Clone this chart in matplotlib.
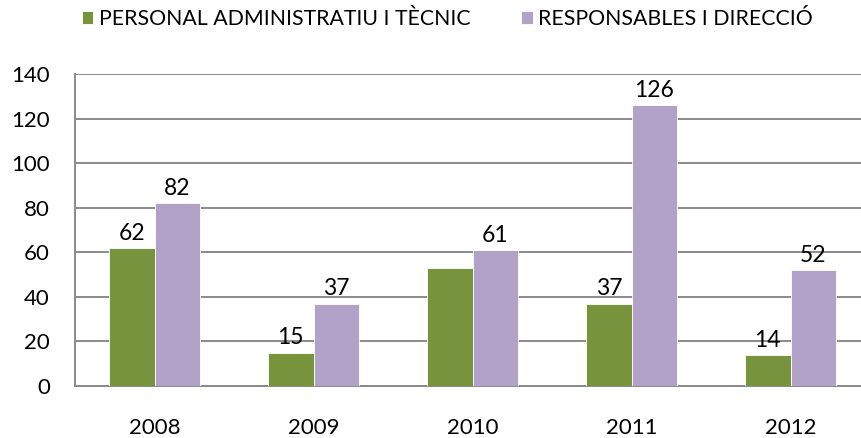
import matplotlib
matplotlib.use("Agg")
import matplotlib.pyplot as plt
import numpy as np

# data
years = ["2008", "2009", "2010", "2011", "2012"]
personal = [62, 15, 53, 37, 14]
responsables = [82, 37, 61, 126, 52]
# the 2010 green bar carries no value label in the source chart
personal_labels = ["62", "15", "", "37", "14"]
responsables_labels = ["82", "37", "61", "126", "52"]
series_names = ["PERSONAL ADMINISTRATIU I TÈCNIC", "RESPONSABLES I DIRECCIÓ"]
yticks = [0, 20, 40, 60, 80, 100, 120, 140]

GREEN = "#77933C"
PURPLE = "#B3A2C7"
GRID = "#8A8A8A"

plt.rcParams["font.family"] = ["Lato", "DejaVu Sans"]

fig = plt.figure(figsize=(8.62, 4.38), dpi=100)
ax = fig.add_axes([75 / 862, 52 / 438, 795 / 862, 312 / 438])

x = np.arange(len(years))
w = 0.285
b1 = ax.bar(x - w / 2, personal, w, color=GREEN, edgecolor="white", linewidth=0.6,
            label=series_names[0], zorder=3)
b2 = ax.bar(x + w / 2, responsables, w, color=PURPLE, edgecolor="white", linewidth=0.6,
            label=series_names[1], zorder=3)
ax.bar_label(b1, labels=personal_labels, padding=3, fontsize=16.5)
ax.bar_label(b2, labels=responsables_labels, padding=3, fontsize=16.5)

ax.set_xlim(-0.5, len(years) - 0.5)
ax.set_ylim(0, 140)
ax.set_yticks(yticks)
ax.set_xticks(x)
ax.set_xticklabels(years)
ax.tick_params(axis="both", length=0, labelsize=16)
ax.tick_params(axis="y", pad=18)
ax.tick_params(axis="x", pad=23)

ax.grid(axis="y", color=GRID, linewidth=1.4, zorder=0)
ax.set_axisbelow(True)
for side in ["top", "right"]:
    ax.spines[side].set_visible(False)
ax.spines["left"].set_color(GRID)
ax.spines["bottom"].set_color(GRID)
ax.spines["left"].set_linewidth(1.4)
ax.spines["bottom"].set_linewidth(1.4)

fig.legend(handles=[b1, b2], loc="center", bbox_to_anchor=(0.519, 1 - 19 / 438), ncol=2,
           frameon=False, fontsize=15.3, handlelength=0.55, handleheight=0.55,
           handletextpad=0.25, columnspacing=2.4)

fig.savefig("out.png", dpi=100)
